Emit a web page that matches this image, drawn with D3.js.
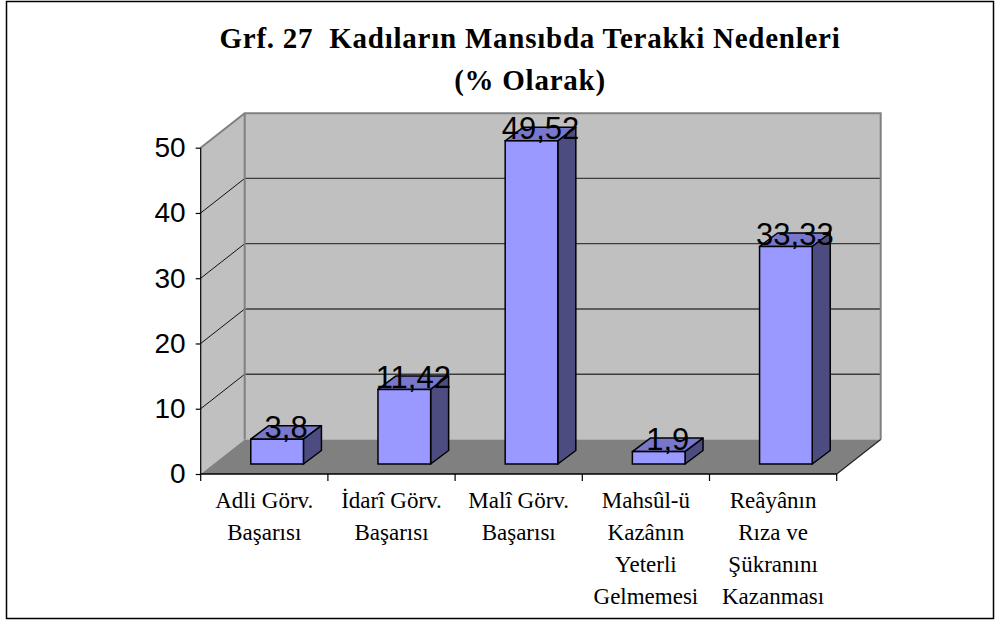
<!DOCTYPE html>
<html lang="tr">
<head>
    <meta charset="UTF-8">
    <title>Grf. 27</title>
    <style>
        body { margin: 0; background: #fff; }
    </style>
</head>
<body>
<div id="chart"></div>
<script src="https://cdn.jsdelivr.net/npm/d3@7/dist/d3.min.js"></script>
<script>
    // data
    const categories = [
        ["Adli Görv.", "Başarısı"],
        ["İdarî Görv.", "Başarısı"],
        ["Malî Görv.", "Başarısı"],
        ["Mahsûl-ü", "Kazânın", "Yeterli", "Gelmemesi"],
        ["Reâyânın", "Rıza ve", "Şükranını", "Kazanması"]
    ];
    const values = [3.8, 11.42, 49.52, 1.9, 33.33];
    const yTicks = [0, 10, 20, 30, 40, 50];
    const titleLines = ["Grf. 27  Kadıların Mansıbda Terakki Nedenleri", "(% Olarak)"];

    const width = 1000, height = 621;
    const plot = {"left": 200.7, "right": 836.7, "top": 147.7, "bottom": 474};
    const depth = {"dx": 44, "dy": -34.5};      // front plane -> back wall
    const barOff = {"dx": 12.8, "dy": -10};     // front plane -> bar front face
    const barDepth = {"dx": 18, "dy": -13.5};   // bar front -> bar back

    const keys = categories.map((c, i) => i);
    const xScale = d3.scaleBand().domain(keys).range([plot.left, plot.right]);
    const yScale = d3.scaleLinear().domain([0, 50]).range([plot.bottom, plot.top]);
    const barW = xScale.bandwidth() * 0.414;

    const svg = d3.select("#chart")
        .append("svg")
        .attr("width", width)
        .attr("height", height);

    svg.append("rect")
        .attr("x", 6.5).attr("y", 1.5)
        .attr("width", 987).attr("height", 617)
        .style("fill", "#fff")
        .style("stroke", "#000")
        .style("stroke-width", 1.5);

    // title
    svg.append("g")
        .selectAll("text")
        .data(titleLines)
        .join("text")
        .attr("x", 530)
        .attr("y", (d, i) => 48 + i * 42)
        .attr("text-anchor", "middle")
        .style("font-family", "'Liberation Serif', 'Times New Roman', serif")
        .style("font-weight", "bold")
        .style("font-size", "29px")
        .style("letter-spacing", "0.75px")
        .style("white-space", "pre")
        .text(d => d);

    const pts = p => p.map(d => d.join(",")).join(" ");
    const y0 = yScale(0), yTop = yScale(50);

    // left wall
    svg.append("polygon")
        .attr("points", pts([[plot.left, yTop], [plot.left + depth.dx, yTop + depth.dy],
            [plot.left + depth.dx, y0 + depth.dy], [plot.left, y0]]))
        .style("fill", "#c0c0c0");

    // back wall
    svg.append("polygon")
        .attr("points", pts([[plot.left + depth.dx, yTop + depth.dy], [plot.right + depth.dx, yTop + depth.dy],
            [plot.right + depth.dx, y0 + depth.dy], [plot.left + depth.dx, y0 + depth.dy]]))
        .style("fill", "#c0c0c0");

    // floor
    svg.append("polygon")
        .attr("points", pts([[plot.left, y0], [plot.right, y0],
            [plot.right + depth.dx, y0 + depth.dy], [plot.left + depth.dx, y0 + depth.dy]]))
        .style("fill", "#808080");

    // gridlines
    const grid = svg.append("g").classed("grid", true);
    grid.selectAll("line.back")
        .data(yTicks.filter(t => t > 0 && t < 50))
        .join("line")
        .classed("back", true)
        .attr("x1", plot.left + depth.dx).attr("x2", plot.right + depth.dx)
        .attr("y1", d => yScale(d) + depth.dy).attr("y2", d => yScale(d) + depth.dy)
        .style("stroke", "#3c3c3c").style("stroke-width", 1.3);
    grid.selectAll("line.side")
        .data(yTicks.filter(t => t > 0 && t < 50))
        .join("line")
        .classed("side", true)
        .attr("x1", plot.left).attr("x2", plot.left + depth.dx)
        .attr("y1", d => yScale(d)).attr("y2", d => yScale(d) + depth.dy)
        .style("stroke", "#111").style("stroke-width", 1);

    // wall edges
    svg.append("polyline")
        .attr("points", pts([[plot.left, yTop], [plot.left + depth.dx, yTop + depth.dy],
            [plot.right + depth.dx, yTop + depth.dy], [plot.right + depth.dx, y0 + depth.dy]]))
        .style("fill", "none").style("stroke", "#808080").style("stroke-width", 2);
    svg.append("line")
        .attr("x1", plot.left + depth.dx).attr("x2", plot.left + depth.dx)
        .attr("y1", yTop + depth.dy).attr("y2", y0 + depth.dy)
        .style("stroke", "#808080").style("stroke-width", 2);
    svg.append("line")
        .attr("x1", plot.right).attr("y1", y0)
        .attr("x2", plot.right + depth.dx).attr("y2", y0 + depth.dy)
        .style("stroke", "#222").style("stroke-width", 1.2);

    // y axis
    const yAxis = d3.axisLeft(yScale).tickValues(yTicks).tickSize(5).tickPadding(10);
    const ya = svg.append("g")
        .attr("transform", `translate(${plot.left},0)`)
        .call(yAxis);
    ya.select(".domain").remove();
    ya.selectAll("line").style("stroke", "#000").style("stroke-width", 1.2);
    ya.selectAll("text")
        .style("font-family", "'Liberation Sans', Arial, sans-serif")
        .style("font-size", "28px")
        .style("fill", "#000");
    svg.append("line")
        .attr("x1", plot.left).attr("x2", plot.left)
        .attr("y1", yTop).attr("y2", y0)
        .style("stroke", "#000").style("stroke-width", 1.2);

    // x axis
    svg.append("line")
        .attr("x1", plot.left).attr("x2", plot.right)
        .attr("y1", y0).attr("y2", y0)
        .style("stroke", "#000").style("stroke-width", 1.5);
    svg.append("g")
        .selectAll("line")
        .data(keys.concat([keys.length]))
        .join("line")
        .attr("x1", d => d < keys.length ? xScale(d) : plot.right)
        .attr("x2", d => d < keys.length ? xScale(d) : plot.right)
        .attr("y1", y0).attr("y2", y0 + 7)
        .style("stroke", "#000").style("stroke-width", 1.2);

    svg.append("g")
        .selectAll("text")
        .data(keys)
        .join("text")
        .attr("text-anchor", "middle")
        .style("font-family", "'Liberation Serif', 'Times New Roman', serif")
        .style("font-size", "23px")
        .each(function (d) {
            d3.select(this).selectAll("tspan")
                .data(categories[d])
                .join("tspan")
                .attr("x", xScale(d) + xScale.bandwidth() / 2)
                .attr("y", (t, j) => 508 + j * 32)
                .text(t => t);
        });

    // bars
    const bars = svg.append("g").classed("bars", true)
        .selectAll("g")
        .data(keys)
        .join("g");

    const fx = d => xScale(d) + (xScale.bandwidth() - barW) / 2 + barOff.dx;
    const fb = y0 + barOff.dy;
    const ft = d => yScale(values[d]) + barOff.dy;

    bars.append("polygon")   // top
        .attr("points", d => pts([[fx(d), ft(d)], [fx(d) + barW, ft(d)],
            [fx(d) + barW + barDepth.dx, ft(d) + barDepth.dy], [fx(d) + barDepth.dx, ft(d) + barDepth.dy]]))
        .style("fill", "#7777cc").style("stroke", "#000").style("stroke-width", 1.5)
        .style("stroke-linejoin", "round");
    bars.append("polygon")   // side
        .attr("points", d => pts([[fx(d) + barW, ft(d)], [fx(d) + barW + barDepth.dx, ft(d) + barDepth.dy],
            [fx(d) + barW + barDepth.dx, fb + barDepth.dy], [fx(d) + barW, fb]]))
        .style("fill", "#4c4c80").style("stroke", "#000").style("stroke-width", 1.5)
        .style("stroke-linejoin", "round");
    bars.append("rect")      // front
        .attr("x", d => fx(d))
        .attr("y", d => ft(d))
        .attr("width", barW)
        .attr("height", d => fb - ft(d))
        .style("fill", "#9999ff").style("stroke", "#000").style("stroke-width", 1.5);

    // data labels
    svg.append("g")
        .selectAll("text")
        .data(keys)
        .join("text")
        .attr("x", d => fx(d) + barW / 2 + barDepth.dx / 2)
        .attr("y", d => ft(d) - 1.5)
        .attr("text-anchor", "middle")
        .style("font-family", "'Liberation Sans', Arial, sans-serif")
        .style("font-size", "31px")
        .style("fill", "#000")
        .text(d => String(values[d]).replace(".", ","));
</script>
</body>
</html>
